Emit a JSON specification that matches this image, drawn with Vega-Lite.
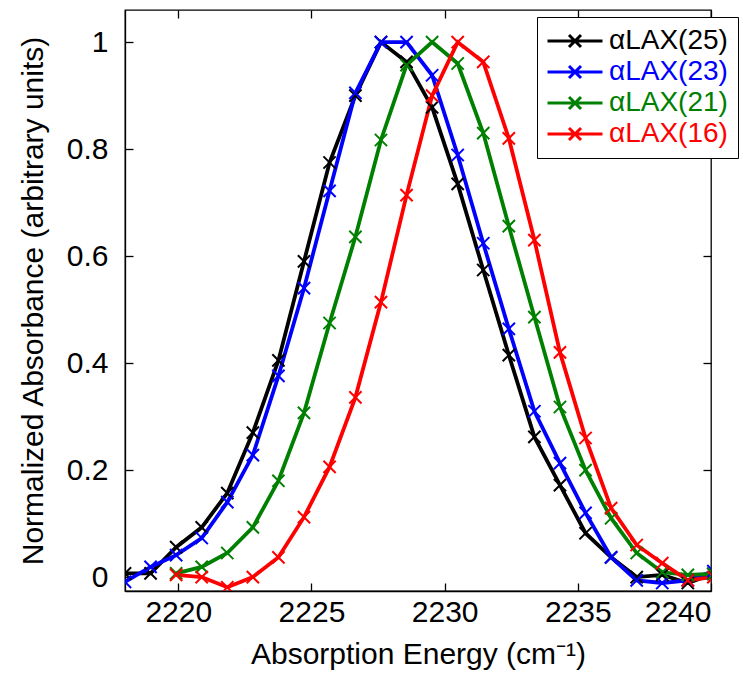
{
  "$schema": "https://vega.github.io/schema/vega-lite/v6.json",
  "width": 586,
  "height": 581,
  "autosize": {"type": "none"},
  "padding": {"left": 125, "top": 10, "right": 43, "bottom": 90},
  "background": "white",
  "config": {
    "font": "Liberation Sans",
    "view": {"stroke": "black", "strokeWidth": 1.3},
    "axis": {
      "labelColor": "black", "titleColor": "black", "tickColor": "black", "domainColor": "black",
      "labelFontSize": 30, "titleFontSize": 30, "titleFontWeight": "normal",
      "grid": false, "tickSize": -8, "tickWidth": 1.3, "domainWidth": 1.3
    }
  },
  "data": {"values": [
    {"x": 2218.00, "y": 0.007, "s": "αLAX(25)"},
    {"x": 2218.96, "y": 0.007, "s": "αLAX(25)"},
    {"x": 2219.92, "y": 0.056, "s": "αLAX(25)"},
    {"x": 2220.88, "y": 0.093, "s": "αLAX(25)"},
    {"x": 2221.84, "y": 0.157, "s": "αLAX(25)"},
    {"x": 2222.80, "y": 0.270, "s": "αLAX(25)"},
    {"x": 2223.76, "y": 0.405, "s": "αLAX(25)"},
    {"x": 2224.72, "y": 0.590, "s": "αLAX(25)"},
    {"x": 2225.68, "y": 0.775, "s": "αLAX(25)"},
    {"x": 2226.65, "y": 0.900, "s": "αLAX(25)"},
    {"x": 2227.61, "y": 1.000, "s": "αLAX(25)"},
    {"x": 2228.57, "y": 0.963, "s": "αLAX(25)"},
    {"x": 2229.53, "y": 0.878, "s": "αLAX(25)"},
    {"x": 2230.49, "y": 0.735, "s": "αLAX(25)"},
    {"x": 2231.45, "y": 0.574, "s": "αLAX(25)"},
    {"x": 2232.41, "y": 0.415, "s": "αLAX(25)"},
    {"x": 2233.37, "y": 0.262, "s": "αLAX(25)"},
    {"x": 2234.33, "y": 0.172, "s": "αLAX(25)"},
    {"x": 2235.29, "y": 0.082, "s": "αLAX(25)"},
    {"x": 2236.25, "y": 0.037, "s": "αLAX(25)"},
    {"x": 2237.21, "y": 0.000, "s": "αLAX(25)"},
    {"x": 2238.17, "y": 0.004, "s": "αLAX(25)"},
    {"x": 2239.13, "y": -0.011, "s": "αLAX(25)"},
    {"x": 2240.09, "y": 0.006, "s": "αLAX(25)"},

    {"x": 2218.00, "y": -0.009, "s": "αLAX(23)"},
    {"x": 2218.96, "y": 0.019, "s": "αLAX(23)"},
    {"x": 2219.92, "y": 0.041, "s": "αLAX(23)"},
    {"x": 2220.88, "y": 0.073, "s": "αLAX(23)"},
    {"x": 2221.84, "y": 0.140, "s": "αLAX(23)"},
    {"x": 2222.80, "y": 0.228, "s": "αLAX(23)"},
    {"x": 2223.76, "y": 0.376, "s": "αLAX(23)"},
    {"x": 2224.72, "y": 0.540, "s": "αLAX(23)"},
    {"x": 2225.68, "y": 0.722, "s": "αLAX(23)"},
    {"x": 2226.65, "y": 0.905, "s": "αLAX(23)"},
    {"x": 2227.61, "y": 1.000, "s": "αLAX(23)"},
    {"x": 2228.57, "y": 1.000, "s": "αLAX(23)"},
    {"x": 2229.53, "y": 0.938, "s": "αLAX(23)"},
    {"x": 2230.49, "y": 0.789, "s": "αLAX(23)"},
    {"x": 2231.45, "y": 0.624, "s": "αLAX(23)"},
    {"x": 2232.41, "y": 0.464, "s": "αLAX(23)"},
    {"x": 2233.37, "y": 0.310, "s": "αLAX(23)"},
    {"x": 2234.33, "y": 0.213, "s": "αLAX(23)"},
    {"x": 2235.29, "y": 0.120, "s": "αLAX(23)"},
    {"x": 2236.25, "y": 0.037, "s": "αLAX(23)"},
    {"x": 2237.21, "y": -0.006, "s": "αLAX(23)"},
    {"x": 2238.17, "y": -0.011, "s": "αLAX(23)"},
    {"x": 2239.13, "y": -0.006, "s": "αLAX(23)"},
    {"x": 2240.09, "y": 0.011, "s": "αLAX(23)"},

    {"x": 2219.92, "y": 0.007, "s": "αLAX(21)"},
    {"x": 2220.88, "y": 0.019, "s": "αLAX(21)"},
    {"x": 2221.84, "y": 0.045, "s": "αLAX(21)"},
    {"x": 2222.80, "y": 0.093, "s": "αLAX(21)"},
    {"x": 2223.76, "y": 0.180, "s": "αLAX(21)"},
    {"x": 2224.72, "y": 0.307, "s": "αLAX(21)"},
    {"x": 2225.68, "y": 0.475, "s": "αLAX(21)"},
    {"x": 2226.65, "y": 0.636, "s": "αLAX(21)"},
    {"x": 2227.61, "y": 0.817, "s": "αLAX(21)"},
    {"x": 2228.57, "y": 0.957, "s": "αLAX(21)"},
    {"x": 2229.53, "y": 1.000, "s": "αLAX(21)"},
    {"x": 2230.49, "y": 0.960, "s": "αLAX(21)"},
    {"x": 2231.45, "y": 0.830, "s": "αLAX(21)"},
    {"x": 2232.41, "y": 0.656, "s": "αLAX(21)"},
    {"x": 2233.37, "y": 0.486, "s": "αLAX(21)"},
    {"x": 2234.33, "y": 0.318, "s": "αLAX(21)"},
    {"x": 2235.29, "y": 0.200, "s": "αLAX(21)"},
    {"x": 2236.25, "y": 0.110, "s": "αLAX(21)"},
    {"x": 2237.21, "y": 0.045, "s": "αLAX(21)"},
    {"x": 2238.17, "y": 0.009, "s": "αLAX(21)"},
    {"x": 2239.13, "y": 0.004, "s": "αLAX(21)"},
    {"x": 2240.09, "y": 0.006, "s": "αLAX(21)"},

    {"x": 2219.92, "y": 0.004, "s": "αLAX(16)"},
    {"x": 2220.88, "y": 0.000, "s": "αLAX(16)"},
    {"x": 2221.84, "y": -0.019, "s": "αLAX(16)"},
    {"x": 2222.80, "y": 0.000, "s": "αLAX(16)"},
    {"x": 2223.76, "y": 0.037, "s": "αLAX(16)"},
    {"x": 2224.72, "y": 0.112, "s": "αLAX(16)"},
    {"x": 2225.68, "y": 0.206, "s": "αLAX(16)"},
    {"x": 2226.65, "y": 0.336, "s": "αLAX(16)"},
    {"x": 2227.61, "y": 0.514, "s": "αLAX(16)"},
    {"x": 2228.57, "y": 0.714, "s": "αLAX(16)"},
    {"x": 2229.53, "y": 0.900, "s": "αLAX(16)"},
    {"x": 2230.49, "y": 1.000, "s": "αLAX(16)"},
    {"x": 2231.45, "y": 0.963, "s": "αLAX(16)"},
    {"x": 2232.41, "y": 0.820, "s": "αLAX(16)"},
    {"x": 2233.37, "y": 0.630, "s": "αLAX(16)"},
    {"x": 2234.33, "y": 0.420, "s": "αLAX(16)"},
    {"x": 2235.29, "y": 0.260, "s": "αLAX(16)"},
    {"x": 2236.25, "y": 0.129, "s": "αLAX(16)"},
    {"x": 2237.21, "y": 0.060, "s": "αLAX(16)"},
    {"x": 2238.17, "y": 0.026, "s": "αLAX(16)"},
    {"x": 2239.13, "y": -0.006, "s": "αLAX(16)"},
    {"x": 2240.09, "y": 0.000, "s": "αLAX(16)"}
  ]},
  "encoding": {
    "color": {
      "field": "s", "type": "nominal",
      "scale": {"domain": ["αLAX(25)", "αLAX(23)", "αLAX(21)", "αLAX(16)"], "range": ["#000000", "#0000ff", "#008000", "#ff0000"]},
      "legend": {
        "orient": "none", "legendX": 412, "legendY": 7, "title": null,
        "symbolType": "M-1.125,0L3.458,0M0.667,-0.5L1.667,0.5M0.667,0.5L1.667,-0.5",
        "symbolSize": 576, "symbolStrokeWidth": 3,
        "labelFontSize": 28, "labelOffset": 34, "labelLimit": 300,
        "rowPadding": 3, "padding": 10,
        "strokeColor": "black", "fillColor": "white",
        "encode": {
          "labels": {"update": {"fill": {"scale": "color", "field": "value"}}},
          "symbols": {"update": {"fill": {"value": "transparent"}, "stroke": {"scale": "color", "field": "value"}}}
        }
      }
    }
  },
  "layer": [
    {
      "mark": {"type": "line", "strokeWidth": 3.8, "clip": true},
      "encoding": {
        "x": {"field": "x", "type": "quantitative", "scale": {"domain": [2218, 2240], "nice": false, "zero": false},
              "axis": {"values": [2220, 2225, 2230, 2235, 2240], "format": "d", "labelPadding": 14, "title": "Absorption Energy (cm⁻¹)", "titlePadding": 12}},
        "y": {"field": "y", "type": "quantitative", "scale": {"domain": [-0.026, 1.06], "nice": false, "zero": false},
              "axis": {"values": [0, 0.2, 0.4, 0.6, 0.8, 1], "format": "~g", "labelPadding": 25, "title": "Normalized Absorbance (arbitrary units)", "titlePadding": 18}}
      }
    },
    {
      "mark": {"type": "point", "shape": "M-1,-1L1,1M-1,1L1,-1", "size": 150, "strokeWidth": 2, "filled": false, "opacity": 1, "clip": true},
      "encoding": {
        "x": {"field": "x", "type": "quantitative", "scale": {"domain": [2218, 2240], "nice": false, "zero": false},
              "axis": {"orient": "top", "values": [2220, 2225, 2230, 2235, 2240], "labels": false, "title": null, "domain": false}},
        "y": {"field": "y", "type": "quantitative", "scale": {"domain": [-0.026, 1.06], "nice": false, "zero": false},
              "axis": {"orient": "right", "values": [0, 0.2, 0.4, 0.6, 0.8, 1], "labels": false, "title": null, "domain": false}}
      }
    }
  ],
  "resolve": {"scale": {"x": "independent", "y": "independent"}, "axis": {"x": "independent", "y": "independent"}}
}
